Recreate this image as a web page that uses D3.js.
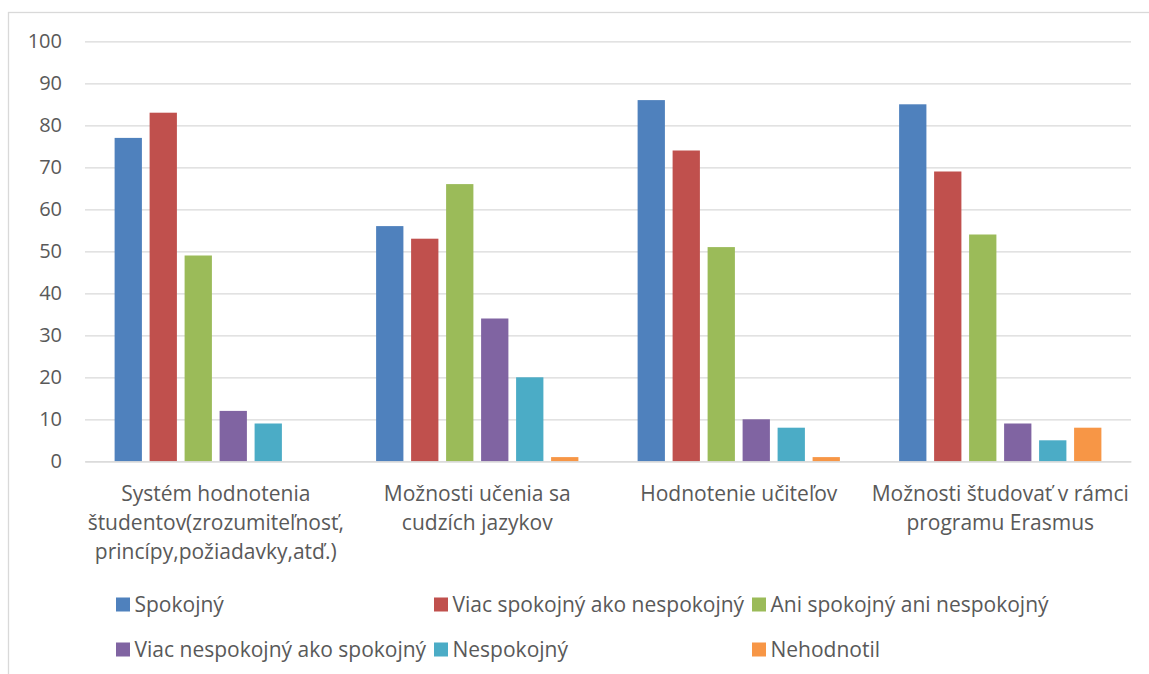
<!DOCTYPE html>
<html>
<head>
<meta charset="utf-8">
<script src="https://cdn.jsdelivr.net/npm/d3@7"></script>
<style>
  body { margin: 0; background: #fff; }
  text { font-family: "Open Sans", Lato, sans-serif; fill: #595959; }
</style>
</head>
<body>
<div id="chart"></div>
<script>
// category labels, already split into lines as in the reference
var categories = [
    ["Systém hodnotenia", "študentov(zrozumiteľnosť,", "princípy,požiadavky,atď.)"],
    ["Možnosti učenia sa", "cudzích jazykov"],
    ["Hodnotenie učiteľov"],
    ["Možnosti študovať v rámci", "programu Erasmus"]
];

var seriesNames = [
    "Spokojný",
    "Viac spokojný ako nespokojný",
    "Ani spokojný ani nespokojný",
    "Viac nespokojný ako spokojný",
    "Nespokojný",
    "Nehodnotil"
];
var seriesColors = ["#4f81bd", "#c0504d", "#9bbb59", "#8064a2", "#4bacc6", "#f79646"];

// values per series, one per category
var spokojny       = [77, 56, 86, 85];
var viacSpokojny   = [83, 53, 74, 69];
var aniAni         = [49, 66, 51, 54];
var viacNespokojny = [12, 34, 10, 9];
var nespokojny     = [9, 20, 8, 5];
var nehodnotil     = [0, 1, 1, 8];

var yTicks = [0, 10, 20, 30, 40, 50, 60, 70, 80, 90, 100];

var series = [spokojny, viacSpokojny, aniAni, viacNespokojny, nespokojny, nehodnotil];

var width = 1149, height = 674;
var plot = {left: 85, right: 1131, top: 41.3, bottom: 461.3};

var svg = d3.select("#chart").append("svg")
    .attr("width", width)
    .attr("height", height);

// chart frame
svg.append("rect")
    .attr("x", 8.5).attr("y", 12.5)
    .attr("width", width).attr("height", height)
    .attr("fill", "none")
    .attr("stroke", "#d9d9d9")
    .attr("stroke-width", 1.3);

var x0 = d3.scaleBand()
    .domain(d3.range(categories.length))
    .range([plot.left, plot.right])
    .paddingInner(0.197)
    .paddingOuter(0.0985);

var x1 = d3.scaleBand()
    .domain(d3.range(series.length))
    .range([0, x0.bandwidth()])
    .paddingInner(0.22)
    .paddingOuter(0.11);

var y = d3.scaleLinear()
    .domain([0, 100])
    .range([plot.bottom, plot.top]);

// y axis with gridlines
var yAxis = svg.append("g")
    .attr("transform", "translate(" + plot.left + ",0)")
    .call(d3.axisLeft(y)
        .tickValues(yTicks)
        .tickSize(-(plot.right - plot.left))
        .tickPadding(23));

yAxis.select(".domain").remove();
yAxis.selectAll(".tick line")
    .attr("stroke", "#d9d9d9")
    .attr("stroke-width", 1.3);
yAxis.selectAll(".tick text")
    .style("font-size", "20px")
    .style("fill", "#595959");

// bars
var groups = svg.append("g").selectAll("g")
    .data(categories)
    .enter().append("g")
    .attr("transform", function(d, i) { return "translate(" + x0(i) + ",0)"; });

groups.selectAll("rect")
    .data(function(d, ci) {
        return series.map(function(s, si) { return {si: si, v: s[ci]}; });
    })
    .enter().append("rect")
    .filter(function(d) { return d.v > 0; })
    .attr("x", function(d) { return x1(d.si); })
    .attr("y", function(d) { return y(d.v); })
    .attr("width", x1.bandwidth())
    .attr("height", function(d) { return y(0) - y(d.v); })
    .attr("fill", function(d) { return seriesColors[d.si]; });

// x axis (category labels)
var xAxis = svg.append("g")
    .attr("transform", "translate(0," + plot.bottom + ")")
    .call(d3.axisBottom(x0).tickSize(0).tickFormat(""));

xAxis.select(".domain")
    .attr("stroke", "#d9d9d9")
    .attr("stroke-width", 1.3);

xAxis.selectAll(".tick text")
    .attr("dy", null)
    .attr("y", 0)
    .style("font-size", "21px")
    .style("fill", "#595959")
    .each(function(d) {
        var t = d3.select(this);
        categories[d].forEach(function(line, i) {
            t.append("tspan")
                .attr("x", 0)
                .attr("y", 40 + i * 28.7)
                .text(line);
        });
    });

// legend, 3 columns x 2 rows
var legend = svg.append("g")
    .attr("transform", "translate(116,597.5)");

var item = legend.selectAll("g")
    .data(seriesNames)
    .enter().append("g")
    .attr("transform", function(d, i) {
        return "translate(" + ((i % 3) * 318) + "," + (Math.floor(i / 3) * 45) + ")";
    });

item.append("rect")
    .attr("width", 14)
    .attr("height", 14)
    .attr("fill", function(d, i) { return seriesColors[i]; });

item.append("text")
    .attr("x", 18.5)
    .attr("y", 14.5)
    .style("font-size", "21px")
    .text(function(d) { return d; });
</script>
</body>
</html>
